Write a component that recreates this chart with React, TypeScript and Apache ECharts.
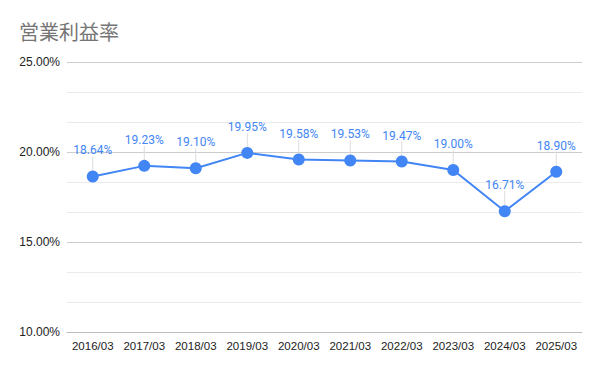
import React, { useEffect, useRef } from "react";
import * as echarts from "echarts";

const categories = ["2016/03", "2017/03", "2018/03", "2019/03", "2020/03", "2021/03", "2022/03", "2023/03", "2024/03", "2025/03"];
const margins = [18.64, 19.23, 19.10, 19.95, 19.58, 19.53, 19.47, 19.00, 16.71, 18.90];
const titleText = "営業利益率";

export default function App() {
  const ref = useRef<HTMLDivElement>(null);
  useEffect(() => {
    const chart = echarts.init(ref.current!, null, { renderer: "svg" });
    chart.setOption({
      animation: false,
      backgroundColor: "#ffffff",
      textStyle: { fontFamily: "Roboto, Arial, sans-serif" },
      title: {
        text: titleText,
        left: 19,
        top: 21,
        padding: 0,
        textStyle: { fontSize: 20, fontWeight: "normal", color: "#757575", fontFamily: "'Noto Sans CJK JP', sans-serif" },
      },
      grid: { left: 67, right: 18, top: 62, bottom: 39 },
      xAxis: {
        type: "category",
        data: categories,
        boundaryGap: true,
        axisLine: { show: true, lineStyle: { color: "#bdbdbd", width: 1 } },
        axisTick: { show: false },
        axisLabel: { color: "#222222", fontSize: 11.5, margin: 8, interval: 0, fontFamily: "'Liberation Sans', Arial, sans-serif" },
        splitLine: { show: false },
      },
      yAxis: {
        type: "value",
        min: 10,
        max: 25,
        interval: 5,
        axisLine: { show: false },
        axisTick: { show: false },
        axisLabel: { color: "#222222", fontSize: 12, margin: 7, fontFamily: "'Liberation Sans', Arial, sans-serif", formatter: (v: number) => v.toFixed(2) + "%" },
        splitLine: { show: true, lineStyle: { color: "#cccccc", width: 1 } },
        minorTick: { show: false, splitNumber: 3 },
        minorSplitLine: { show: true, lineStyle: { color: "#ebebeb", width: 1 } },
      },
      series: [
        {
          type: "line",
          data: margins,
          symbol: "circle",
          symbolSize: 12,
          lineStyle: { color: "#4285f4", width: 2 },
          itemStyle: { color: "#4285f4" },
          label: {
            show: true,
            position: "top",
            distance: 4,
            color: "#4285f4",
            fontSize: 12,
            formatter: (p: any) => p.value.toFixed(2) + "%",
          },
          labelLayout: { dy: -10 },
          labelLine: { show: true, lineStyle: { color: "#dddddd", width: 1 } },
        },
      ],
    });
    return () => chart.dispose();
  }, []);
  return <div ref={ref} style={{ position: "fixed", left: 0, top: 0, width: 600, height: 371 }} />;
}
